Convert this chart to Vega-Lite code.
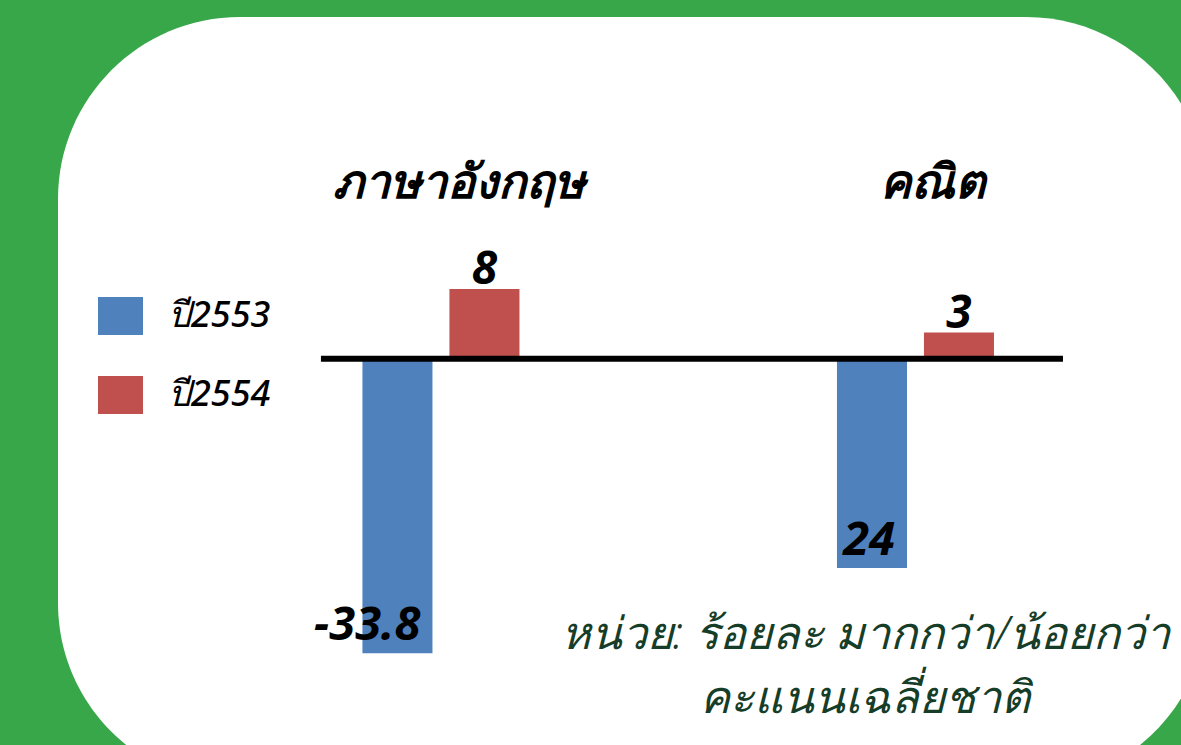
{
  "$schema": "https://vega.github.io/schema/vega-lite/v6.json",
  "width": 1150,
  "height": 768,
  "autosize": {"type": "none"},
  "padding": {"left": 58, "top": 17, "right": 0, "bottom": 0},
  "background": "#37A74A",
  "config": {
    "view": {"fill": "white", "stroke": null, "cornerRadius": 182},
    "font": "Noto Sans"
  },
  "datasets": {
    "bars": [
      {"subject": "ภาษาอังกฤษ", "year": "ปี2553", "value": -33.8, "label": "-33.8"},
      {"subject": "ภาษาอังกฤษ", "year": "ปี2554", "value": 8, "label": "8"},
      {"subject": "คณิต", "year": "ปี2553", "value": -24, "label": "24"},
      {"subject": "คณิต", "year": "ปี2554", "value": 3, "label": "3"}
    ],
    "axisline": [{"start": "ภาษาอังกฤษ", "end": "คณิต", "value": 0}],
    "subjects": [{"subject": "ภาษาอังกฤษ"}, {"subject": "คณิต"}],
    "note": [{"subject": "คณิต", "text": "หน่วย: ร้อยละ มากกว่า/น้อยกว่า\nคะแนนเฉลี่ยชาติ"}]
  },
  "encoding": {
    "x": {
      "field": "subject", "type": "nominal", "sort": ["ภาษาอังกฤษ", "คณิต"],
      "scale": {"domain": ["ภาษาอังกฤษ", "คณิต"], "paddingInner": 0.6691, "paddingOuter": 0.5463, "align": 0.5872},
      "axis": null
    }
  },
  "layer": [
    {
      "data": {"name": "bars"},
      "mark": {"type": "bar"},
      "encoding": {
        "xOffset": {"field": "year", "type": "nominal", "scale": {"domain": ["ปี2553", "ปี2554"], "paddingInner": 0.195, "paddingOuter": 0}},
        "y": {"field": "value", "type": "quantitative", "scale": {"domain": [-48.9, 39.2], "nice": false, "zero": false}, "axis": null},
        "color": {
          "field": "year", "type": "nominal",
          "scale": {"domain": ["ปี2553", "ปี2554"], "range": ["#4F81BD", "#C0504D"]},
          "legend": {
            "title": null, "orient": "none", "legendX": 40, "legendY": 276.5,
            "symbolType": "M-1,-0.84H1V0.84H-1Z", "symbolSize": 2025, "symbolStrokeWidth": 0, "symbolOpacity": 1,
            "labelFontSize": 36, "labelFontStyle": "italic", "labelFontWeight": 500, "labelColor": "black",
            "labelOffset": 25, "rowPadding": 37, "padding": 0, "labelLimit": 300
          }
        }
      }
    },
    {
      "data": {"name": "axisline"},
      "mark": {"type": "rule", "color": "black", "strokeWidth": 6, "xOffset": -41.5, "x2Offset": 69},
      "encoding": {
        "x": {"field": "start", "type": "nominal", "bandPosition": 0},
        "x2": {"field": "end", "bandPosition": 1},
        "y": {"field": "value", "type": "quantitative"}
      }
    },
    {
      "data": {"name": "bars"},
      "transform": [{"filter": "datum.value > 0"}],
      "mark": {"type": "text", "baseline": "alphabetic", "dy": -5, "fontSize": 46, "fontStyle": "italic", "fontWeight": "bold", "color": "black"},
      "encoding": {
        "xOffset": {"field": "year", "type": "nominal"},
        "y": {"field": "value", "type": "quantitative"},
        "text": {"field": "label"}
      }
    },
    {
      "data": {"name": "bars"},
      "transform": [{"filter": "datum.value < 0"}],
      "mark": {"type": "text", "baseline": "alphabetic", "align": "right", "dx": 23, "dy": -13, "fontSize": 47, "fontStyle": "italic", "fontWeight": "bold", "color": "black"},
      "encoding": {
        "xOffset": {"field": "year", "type": "nominal"},
        "y": {"field": "value", "type": "quantitative"},
        "text": {"field": "label"}
      }
    },
    {
      "data": {"name": "subjects"},
      "mark": {"type": "text", "baseline": "middle", "dx": 18, "fontSize": 47, "fontStyle": "italic", "fontWeight": "bold", "color": "black"},
      "encoding": {
        "y": {"datum": 20},
        "text": {"field": "subject"}
      }
    },
    {
      "data": {"name": "note"},
      "mark": {"type": "text", "baseline": "alphabetic", "dx": -50, "fontSize": 45, "fontStyle": "italic", "fontWeight": 300, "color": "#163D28", "lineBreak": "\n", "lineHeight": 64},
      "encoding": {
        "y": {"datum": -33.3},
        "text": {"field": "text"}
      }
    }
  ]
}
